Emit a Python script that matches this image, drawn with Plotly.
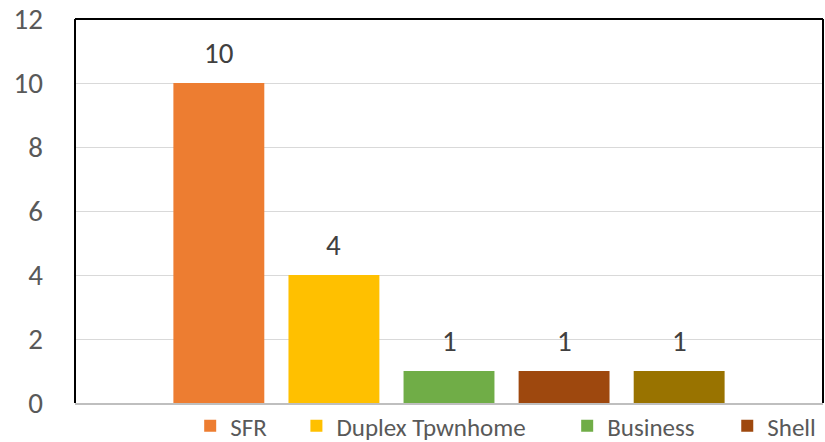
import plotly.graph_objects as go

categories = ["SFR", "Duplex Tpwnhome", "Business", "Shell", "Other"]
counts = [10, 4, 1, 1, 1]
colors = ["#ED7D31", "#FFC000", "#70AD47", "#9E480E", "#997300"]
in_legend = [True, True, True, True, False]
legend_x = [0.154, 0.296, 0.658, 0.872, None]

FONT = "Carlito, Lato, 'Noto Sans', sans-serif"

fig = go.Figure()

legend_ids = ["legend", "legend2", "legend3", "legend4"]
for i, (name, val, col, leg) in enumerate(zip(categories, counts, colors, in_legend)):
    fig.add_trace(go.Bar(
        x=[name], y=[val], name=name,
        marker=dict(color=col, line=dict(width=0)),
        width=0.79,
        showlegend=leg,
        legend=legend_ids[i] if leg else None,
    ))
    # value label above each bar
    fig.add_annotation(x=name, y=val, text=str(val), showarrow=False,
                       yanchor="bottom", yshift=10,
                       font=dict(size=29, color="#404040", family=FONT))

fig.update_layout(
    width=825, height=442,
    margin=dict(l=75, r=2, t=19, b=39),
    paper_bgcolor="white", plot_bgcolor="white",
    barmode="overlay",
    font=dict(family=FONT, color="#595959"),
)

# one legend box per entry so the spacing follows the original
for lid, lx in zip(legend_ids, legend_x):
    fig.update_layout({lid: dict(
        orientation="h", x=lx, xanchor="left",
        yref="container", y=0.036, yanchor="middle",
        font=dict(size=25, color="#595959", family=FONT),
        itemwidth=30, bgcolor="rgba(0,0,0,0)",
    )})

fig.update_xaxes(
    range=[-1.25, 5.25], showticklabels=False, ticks="",
    showgrid=False, zeroline=False, automargin=False,
    showline=True, linecolor="#BFBFBF", linewidth=1.5,
)
fig.update_yaxes(
    range=[0, 12], dtick=2, tickfont=dict(size=29, color="#595959"),
    showgrid=True, gridcolor="#D9D9D9", gridwidth=1.3,
    zeroline=False, ticks="", ticklabelstandoff=31, automargin=False,
)

# black border on left, top and right of the plot area
for x0, y0, x1, y1 in [(0, 0, 0, 1), (0, 1, 1, 1), (1, 0, 1, 1)]:
    fig.add_shape(type="line", xref="paper", yref="paper",
                  x0=x0, y0=y0, x1=x1, y1=y1,
                  line=dict(color="black", width=2))

# drop the page's default body margin so the figure fills the window
fig.write_html("out.html", config={"displayModeBar": False},
               post_script="document.body.style.margin='0';")
